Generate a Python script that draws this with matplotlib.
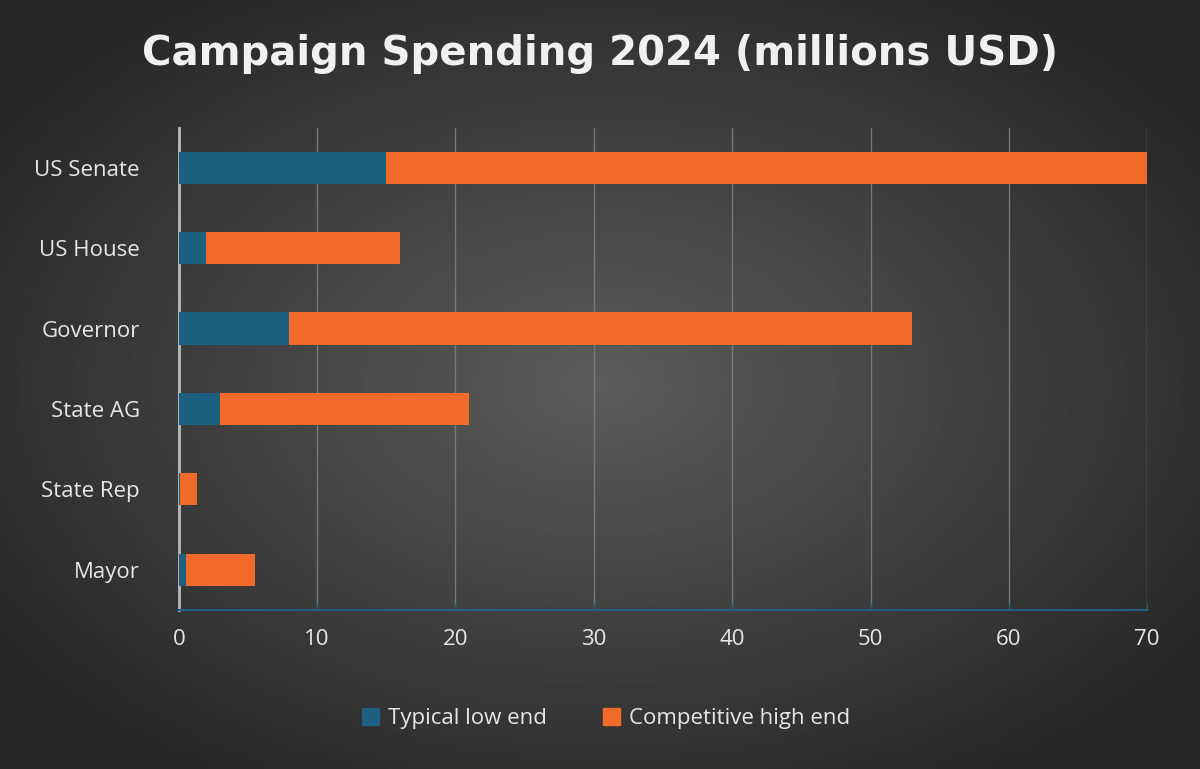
import numpy as np
import matplotlib
matplotlib.use("Agg")
import matplotlib.pyplot as plt

categories = ["US Senate", "US House", "Governor", "State AG", "State Rep", "Mayor"]
low_end = [15, 2, 8, 3, 0.1, 0.5]
high_end = [70.2, 16, 53, 21, 1.3, 5.5]
xticks = [0, 10, 20, 30, 40, 50, 60, 70]

blue = "#1f5f80"
orange = "#f26a2a"
txt = "#e6e6e6"

fig = plt.figure(figsize=(12, 7.69), dpi=100)
bg = fig.add_axes([0, 0, 1, 1])
yy, xx = np.mgrid[-1:1:400j, -1:1:600j]
r = np.sqrt(xx**2 + yy**2)
img = np.clip(0.36 - 0.17 * r, 0.15, 0.36)
bg.imshow(img, cmap="gray", vmin=0, vmax=1, aspect="auto", extent=[0, 1, 0, 1])
bg.axis("off")

ax = fig.add_axes([0.149, 0.207, 0.807, 0.627])
ax.patch.set_alpha(0)
y = np.arange(len(categories))
ax.barh(y, low_end, height=0.4, color=blue, zorder=3)
ax.barh(y, np.array(high_end) - np.array(low_end), left=low_end, height=0.4, color=orange, zorder=3)
ax.set_ylim(len(categories) - 0.5, -0.5)
ax.set_xlim(0, 70)
ax.set_yticks(y, categories)
ax.set_xticks(xticks)
ax.tick_params(axis="y", length=0, colors=txt, labelsize=16, pad=28)
ax.tick_params(axis="x", length=5, direction="in", color=blue, colors=txt, labelsize=16, pad=14)
for lab in ax.get_xticklabels() + ax.get_yticklabels():
    lab.set_color(txt)
    lab.set_family("Open Sans")
ax.grid(axis="x", color="#777777", linewidth=1, zorder=0)
for s in ["top", "right"]:
    ax.spines[s].set_visible(False)
ax.spines["left"].set_color("#bbbbbb")
ax.spines["left"].set_linewidth(2)
ax.spines["bottom"].set_color(blue)
ax.spines["bottom"].set_linewidth(1.5)

fig.text(0.5, 0.93, "Campaign Spending 2024 (millions USD)", ha="center", va="center",
         fontsize=29, fontweight="bold", color="#f0f0f0", family="DejaVu Sans")

from matplotlib.patches import Patch
fig.legend(handles=[Patch(color=blue, label="Typical low end"), Patch(color=orange, label="Competitive high end")],
           loc="center", bbox_to_anchor=(0.505, 0.066), ncol=2, frameon=False,
           prop={"family": "Open Sans", "size": 16}, labelcolor=txt,
           handlelength=0.8, handleheight=0.8, columnspacing=2.5, handletextpad=0.4)

fig.savefig("out.png", dpi=100)
